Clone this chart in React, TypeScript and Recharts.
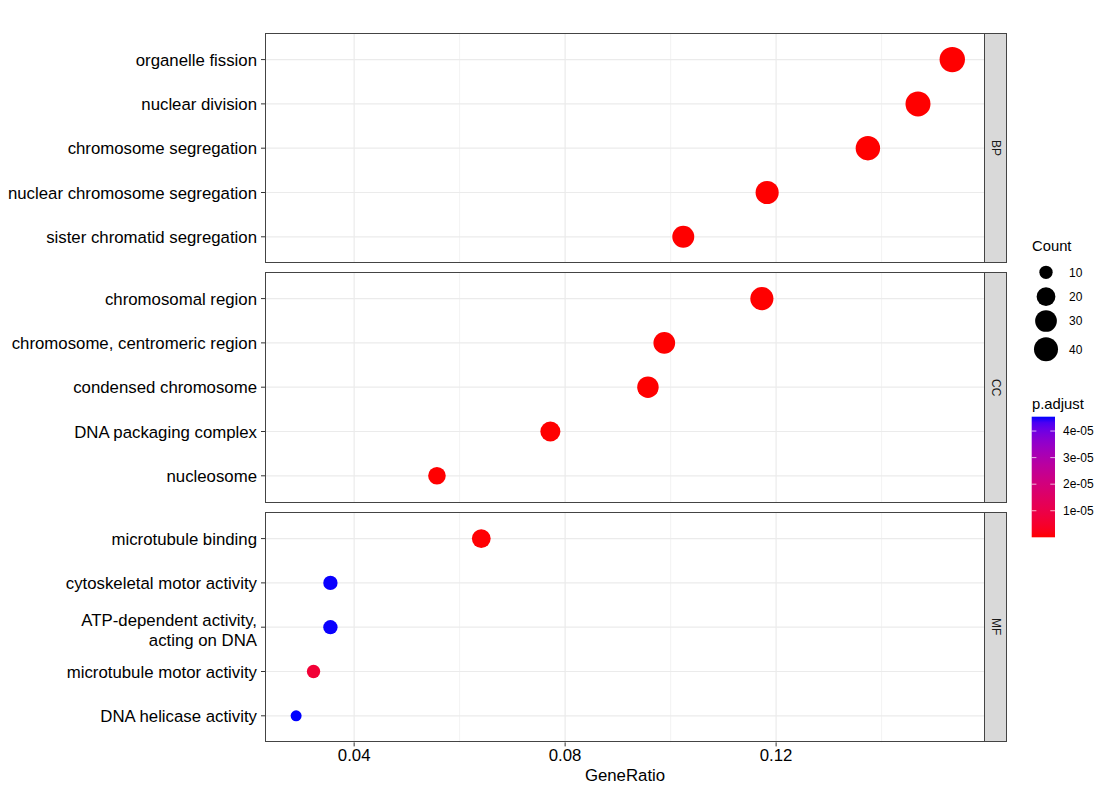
import React from "react";
import { ScatterChart, Scatter, XAxis, YAxis, CartesianGrid } from "recharts";

// GO enrichment dotplot, faceted by ontology
const bpTerms = [
  "organelle fission",
  "nuclear division",
  "chromosome segregation",
  "nuclear chromosome segregation",
  "sister chromatid segregation",
];
const bpRatio = [0.1534, 0.1469, 0.1374, 0.1183, 0.1024];
const bpCount = [47, 45, 42, 36, 31];
const bpPadj = [1.2e-13, 2.4e-13, 3.1e-12, 4.4e-11, 2.6e-10];

const ccTerms = [
  "chromosomal region",
  "chromosome, centromeric region",
  "condensed chromosome",
  "DNA packaging complex",
  "nucleosome",
];
const ccRatio = [0.1173, 0.0988, 0.0957, 0.0772, 0.0557];
const ccCount = [36, 30, 29, 24, 17];
const ccPadj = [5.1e-12, 3.3e-10, 8.7e-10, 2.2e-9, 6.5e-8];

const mfTerms = [
  "microtubule binding",
  "cytoskeletal motor activity",
  "ATP-dependent activity,\nacting on DNA",
  "microtubule motor activity",
  "DNA helicase activity",
];
const mfRatio = [0.0641, 0.0355, 0.0355, 0.0323, 0.029];
const mfCount = [20, 11, 11, 10, 9];
const mfPadj = [2.1e-7, 4.53e-5, 4.53e-5, 6.5e-6, 4.54e-5];

const ontologies = ["BP", "CC", "MF"];
const xTicks = [0.04, 0.08, 0.12];
const xMinor = [0.06, 0.1, 0.14];
const countBreaks = [10, 20, 30, 40];
const padjBreaks = [1e-5, 2e-5, 3e-5, 4e-5];
const padjLabels = ["1e-05", "2e-05", "3e-05", "4e-05"];

const allCounts = [...bpCount, ...ccCount, ...mfCount];
const allPadj = [...bpPadj, ...ccPadj, ...mfPadj];
const cMin = Math.min(...allCounts);
const cMax = Math.max(...allCounts);
const pMin = Math.min(...allPadj);
const pMax = Math.max(...allPadj);

const makeRows = (terms: string[], ratio: number[], count: number[], padj: number[]) =>
  terms.map((t, i) => ({ term: t, pos: i + 1, ratio: ratio[i], count: count[i], padj: padj[i] }));

const panels = [
  makeRows(bpTerms, bpRatio, bpCount, bpPadj),
  makeRows(ccTerms, ccRatio, ccCount, ccPadj),
  makeRows(mfTerms, mfRatio, mfCount, mfPadj),
];
const panelTerms = [bpTerms, ccTerms, mfTerms];

// size scale like ggplot scale_size(range = c(3, 8))
const radius = (c: number) => {
  const size = 3 + 5 * Math.sqrt((c - cMin) / (cMax - cMin));
  return 1.44 * size + 1.18;
};

// red -> blue interpolated in Lab space
const lin = (c: number) => {
  c /= 255;
  return c <= 0.04045 ? c / 12.92 : Math.pow((c + 0.055) / 1.055, 2.4);
};
const gam = (c: number) => {
  const v = c <= 0.0031308 ? 12.92 * c : 1.055 * Math.pow(c, 1 / 2.4) - 0.055;
  return Math.round(Math.max(0, Math.min(1, v)) * 255);
};
const toLab = (r: number, g: number, b: number) => {
  const R = lin(r), G = lin(g), B = lin(b);
  const X = (0.4124564 * R + 0.3575761 * G + 0.1804375 * B) / 0.95047;
  const Y = 0.2126729 * R + 0.7151522 * G + 0.072175 * B;
  const Z = (0.0193339 * R + 0.119192 * G + 0.9503041 * B) / 1.08883;
  const f = (t: number) => (t > 0.008856 ? Math.cbrt(t) : 7.787 * t + 16 / 116);
  const fx = f(X), fy = f(Y), fz = f(Z);
  return [116 * fy - 16, 500 * (fx - fy), 200 * (fy - fz)];
};
const fromLab = (L: number, a: number, b: number) => {
  const fy = (L + 16) / 116;
  const fx = fy + a / 500;
  const fz = fy - b / 200;
  const inv = (t: number) => (t ** 3 > 0.008856 ? t ** 3 : (t - 16 / 116) / 7.787);
  const X = inv(fx) * 0.95047, Y = inv(fy), Z = inv(fz) * 1.08883;
  const R = 3.2404542 * X - 1.5371385 * Y - 0.4985314 * Z;
  const G = -0.969266 * X + 1.8760108 * Y + 0.041556 * Z;
  const B = 0.0556434 * X - 0.2040259 * Y + 1.0572252 * Z;
  return `rgb(${gam(R)},${gam(G)},${gam(B)})`;
};
const labLow = toLab(255, 0, 0);
const labHigh = toLab(0, 0, 255);
const colorAt = (t: number) =>
  fromLab(
    labLow[0] + (labHigh[0] - labLow[0]) * t,
    labLow[1] + (labHigh[1] - labLow[1]) * t,
    labLow[2] + (labHigh[2] - labLow[2]) * t
  );
const padjColor = (p: number) => colorAt((p - pMin) / (pMax - pMin));

const FONT = "'Liberation Sans', Arial, Helvetica, sans-serif";
const LEFT = 265;
const RIGHT = 985;
const PANEL_H = 230.4;
const panelTop = [33, 272.3, 511.6];
const X_DOMAIN: [number, number] = [0.0231, 0.1596];

function YTick({ x, y, payload, labels }: any) {
  const lines = String(labels[payload.value - 1] ?? "").split("\n");
  const lh = 20.5;
  const first = 6 - ((lines.length - 1) * lh) / 2 + (lines.length - 1) * 3;
  return (
    <text x={x} y={y} textAnchor="end" fill="#000" fontSize={16.8}>
      {lines.map((l: string, i: number) => (
        <tspan key={i} x={x} dy={i === 0 ? first : lh}>
          {l}
        </tspan>
      ))}
    </text>
  );
}

const Dot = (props: any) => {
  const { cx, cy, payload } = props;
  if (cx == null || cy == null) return null;
  return <circle cx={cx} cy={cy} r={radius(payload.count)} fill={padjColor(payload.padj)} />;
};

function Panel({ idx }: { idx: number }) {
  const last = idx === panels.length - 1;
  const axisH = 48;
  return (
    <div style={{ position: "absolute", left: 0, top: panelTop[idx] }}>
      <ScatterChart
        width={RIGHT}
        height={PANEL_H + (last ? axisH : 0)}
        margin={{ top: 0, right: 0, bottom: 0, left: 0 }}
      >
        <CartesianGrid
          stroke="#ebebeb"
          strokeWidth={0.6}
          horizontal={false}
          verticalValues={xMinor}
        />
        <CartesianGrid
          stroke="#ebebeb"
          strokeWidth={1.2}
          horizontalValues={[1, 2, 3, 4, 5]}
          verticalValues={xTicks}
        />
        <XAxis
          type="number"
          dataKey="ratio"
          domain={X_DOMAIN}
          allowDataOverflow
          ticks={xTicks}
          hide={!last}
          height={axisH}
          tickSize={4}
          tickMargin={3}
          axisLine={false}
          tickLine={{ stroke: "#333" }}
          tick={{ fill: "#000", fontSize: 16.8 }}
          tickFormatter={(v: number) => String(v)}
          label={
            last
              ? { value: "GeneRatio", position: "insideBottom", offset: 9, fill: "#000", fontSize: 16.8 }
              : undefined
          }
        />
        <YAxis
          type="number"
          dataKey="pos"
          domain={[0.4, 5.6]}
          reversed
          ticks={[1, 2, 3, 4, 5]}
          interval={0}
          width={LEFT}
          tickSize={4}
          tickMargin={4}
          axisLine={false}
          tickLine={{ stroke: "#333" }}
          tick={(p: any) => <YTick {...p} labels={panelTerms[idx]} />}
        />
        <Scatter data={panels[idx]} shape={Dot} isAnimationActive={false} />
      </ScatterChart>
      <div
        style={{
          position: "absolute",
          left: LEFT,
          top: 0,
          width: RIGHT - LEFT,
          height: PANEL_H,
          border: "1px solid #444",
          boxSizing: "border-box",
          pointerEvents: "none",
        }}
      />
      <div
        style={{
          position: "absolute",
          left: RIGHT - 1,
          top: 0,
          width: 23,
          height: PANEL_H,
          border: "1px solid #444",
          boxSizing: "border-box",
          background: "#d9d9d9",
          display: "flex",
          alignItems: "center",
          justifyContent: "center",
        }}
      >
        <span style={{ writingMode: "vertical-rl", fontSize: 12, color: "#1a1a1a" }}>
          {ontologies[idx]}
        </span>
      </div>
    </div>
  );
}

function Legends() {
  const keyY = [42.3, 66.7, 91, 119.3];
  const barTop = 186.7;
  const barBottom = 307.3;
  const barY = (v: number) => barBottom - ((v - pMin) / (pMax - pMin)) * (barBottom - barTop);
  const stops = Array.from({ length: 21 }, (_, i) => i / 20);
  return (
    <svg
      width={90}
      height={320}
      style={{ position: "absolute", left: 1020, top: 230, fontFamily: FONT }}
    >
      <defs>
        <linearGradient id="padjGrad" x1="0" y1="1" x2="0" y2="0">
          {stops.map((s) => (
            <stop key={s} offset={s} stopColor={colorAt(s)} />
          ))}
        </linearGradient>
      </defs>
      <text x={12} y={21} fontSize={14.8} fill="#000">
        Count
      </text>
      {countBreaks.map((c, i) => (
        <g key={c}>
          <circle cx={26} cy={keyY[i]} r={radius(c)} fill="#000" />
          <text x={49} y={keyY[i] + 4.3} fontSize={12} fill="#000">
            {c}
          </text>
        </g>
      ))}
      <text x={12} y={178.5} fontSize={14.8} fill="#000">
        p.adjust
      </text>
      <rect x={11.7} y={barTop} width={23.3} height={barBottom - barTop} fill="url(#padjGrad)" />
      {padjBreaks.map((v, i) => (
        <g key={v}>
          <line x1={11.7} x2={16.4} y1={barY(v)} y2={barY(v)} stroke="#fff" strokeOpacity={0.7} />
          <line x1={30.3} x2={35} y1={barY(v)} y2={barY(v)} stroke="#fff" strokeOpacity={0.7} />
          <text x={43} y={barY(v) + 4.3} fontSize={12} fill="#000">
            {padjLabels[i]}
          </text>
        </g>
      ))}
    </svg>
  );
}

export default function App() {
  return (
    <div
      style={{
        position: "absolute",
        left: 0,
        top: 0,
        width: 1110,
        height: 793,
        background: "#fff",
        fontFamily: FONT,
        overflow: "hidden",
      }}
    >
      {panels.map((_, i) => (
        <Panel key={i} idx={i} />
      ))}
      <Legends />
    </div>
  );
}
